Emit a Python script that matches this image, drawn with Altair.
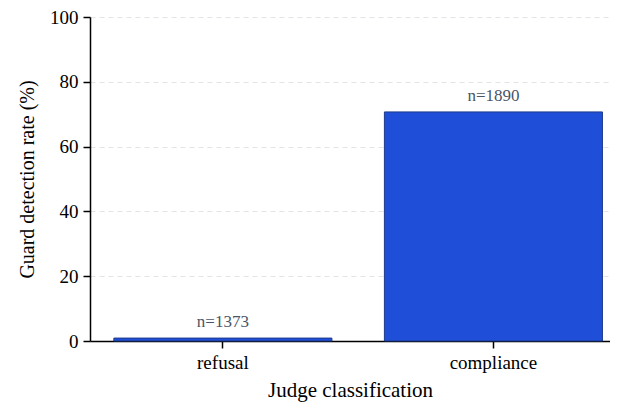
import altair as alt
import pandas as pd

categories = ["refusal", "compliance"]
rates = [0.9, 70.7]
counts = [1373, 1890]

df = pd.DataFrame({
    "cls": categories,
    "rate": rates,
    "label": [f"n={c}" for c in counts],
})

FONT = "Liberation Serif"

x = alt.X("cls:N", sort=categories, title="Judge classification",
          scale=alt.Scale(paddingInner=0.194, paddingOuter=0.058, align=0.76),
          axis=alt.Axis(labelAngle=0, labelFontSize=19, titleFontSize=21,
                        titleFontWeight="normal",
                        labelColor="black", titleColor="black", labelPadding=5,
                        titlePadding=7, domainColor="black", domainWidth=1.5,
                        tickColor="black", tickSize=7, tickWidth=1.5,
                        labelFont=FONT, titleFont=FONT, grid=False))

bars = alt.Chart(df).mark_bar(color="#1f4fd8", stroke="#1e3a8a", strokeWidth=1).encode(
    x=x,
    y=alt.Y("rate:Q", title="Guard detection rate (%)",
            scale=alt.Scale(domain=[0, 100], nice=False),
            axis=alt.Axis(values=[0, 20, 40, 60, 80, 100], labelFontSize=19,
                          titleFontSize=20, titleFontWeight="normal",
                          labelColor="black", titleColor="black",
                          labelFont=FONT, titleFont=FONT, domainColor="black",
                          domainWidth=1.5, tickColor="black", tickSize=7,
                          tickWidth=1.5, labelPadding=5, titlePadding=12,
                          grid=True, gridColor="#e3e3e8", gridDash=[5, 4],
                          gridWidth=1)),
)

text = alt.Chart(df).mark_text(dy=-16, fontSize=17, font=FONT, color="#4a5568").encode(
    x=alt.X("cls:N", sort=categories),
    y=alt.Y("rate:Q"),
    text="label:N",
)

chart = (bars + text).properties(
    width=520, height=324,
    padding={"left": 82, "top": 9, "right": 0, "bottom": 69},
    autosize=alt.AutoSizeParams(type="none"),
    background="white",
).configure_view(stroke=None)

chart.save("out.html", embed_options={"renderer": "svg", "actions": False})
